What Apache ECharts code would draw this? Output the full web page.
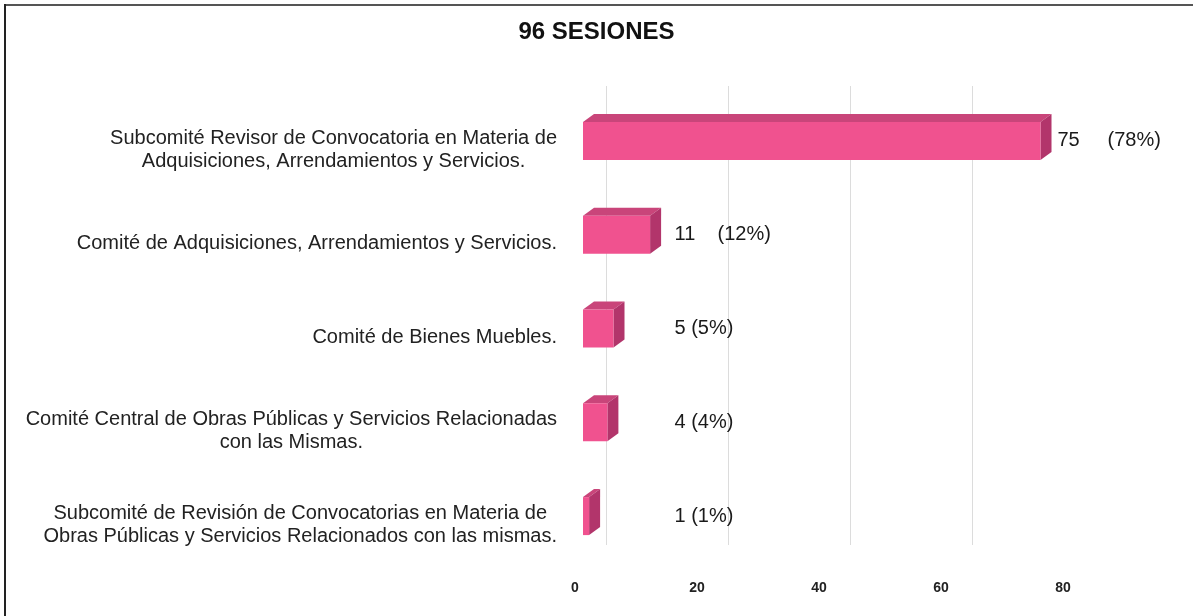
<!DOCTYPE html>
<html>
<head>
<meta charset="utf-8">
<script src="https://cdn.jsdelivr.net/npm/echarts@6/dist/echarts.min.js"></script>
<style>
body { margin: 0; background: #fff; }
#chart { width: 1193px; height: 616px; }
</style>
</head>
<body>
<div id="chart"></div>
<script>
// categories, top to bottom
const categories = [
  'Subcomité Revisor de Convocatoria en Materia de\nAdquisiciones, Arrendamientos y Servicios.',
  'Comité de Adquisiciones, Arrendamientos y Servicios.',
  'Comité de Bienes Muebles.',
  'Comité Central de Obras Públicas y Servicios Relacionadas\ncon las Mismas.',
  'Subcomité de Revisión de Convocatorias en Materia de\nObras Públicas y Servicios Relacionados con las mismas.'
]
const sesiones = [75, 11, 5, 4, 1]
const valueLabels = ['75     (78%)', '11    (12%)', '5 (5%)', '4 (4%)', '1 (1%)']
const xTicks = [0, 20, 40, 60, 80]

const font = "'Liberation Sans', Arial, sans-serif"
const chart = echarts.init(document.getElementById('chart'))

function renderBar(params, api) {
  const idx = api.value(1)
  const val = api.value(0)
  const p0 = api.coord([0, idx])
  const p1 = api.coord([val, idx])
  const h = 38, dx = 11, dy = 8
  const x0 = p0[0], x1 = p1[0]
  const yt = p0[1] - h / 2, yb = p0[1] + h / 2
  const labelX = Math.max(x1 + dx + 6, api.coord([15, idx])[0])
  return {
    type: 'group',
    children: [
      {
        type: 'polygon',
        shape: { points: [[x0, yt], [x0 + dx, yt - dy], [x1 + dx, yt - dy], [x1, yt]] },
        style: { fill: '#c9457a' }
      },
      {
        type: 'polygon',
        shape: { points: [[x1, yt], [x1 + dx, yt - dy], [x1 + dx, yb - dy], [x1, yb]] },
        style: { fill: '#b2356b' }
      },
      {
        type: 'rect',
        shape: { x: x0, y: yt, width: x1 - x0, height: h },
        style: { fill: '#f0528f' }
      },
      {
        type: 'text',
        style: {
          text: valueLabels[params.dataIndex],
          x: labelX,
          y: p0[1],
          verticalAlign: 'middle',
          fill: '#1a1a1a',
          font: '20px ' + font
        }
      }
    ]
  }
}

chart.setOption({
  animation: false,
  title: {
    text: '96 SESIONES',
    left: 'center',
    top: 20,
    padding: 0,
    textStyle: { fontSize: 24, fontWeight: 'bold', color: '#111', fontFamily: font }
  },
  grid: [
    { left: 583, width: 488, top: 94, height: 469 },
    { left: 606, width: 488, top: 86, height: 459 }
  ],
  xAxis: [
    {
      type: 'value', gridIndex: 0, min: xTicks[0], max: xTicks[xTicks.length - 1], interval: 20,
      axisLine: { show: false }, axisTick: { show: false }, splitLine: { show: false },
      axisLabel: {
        margin: 18, padding: [0, 16, 0, 0],
        fontSize: 14, fontWeight: 'bold', color: '#222', fontFamily: font
      }
    },
    {
      type: 'value', gridIndex: 1, min: xTicks[0], max: xTicks[xTicks.length - 1], interval: 20,
      axisLine: { show: false }, axisTick: { show: false }, axisLabel: { show: false },
      splitLine: { show: true, showMaxLine: false, lineStyle: { color: '#dcdcdc', width: 1 } }
    }
  ],
  yAxis: [
    {
      type: 'category', gridIndex: 0, data: categories, inverse: true,
      axisLine: { show: false }, axisTick: { show: false },
      axisLabel: {
        margin: 26, padding: [18, 0, 0, 0],
        formatter: v => v.split('\n').map(l => '{c|' + l + '}').join('\n'),
        rich: {
          c: { align: 'center', fontSize: 20, lineHeight: 23, color: '#222', fontFamily: font }
        }
      }
    },
    {
      type: 'category', gridIndex: 1, data: categories, inverse: true, show: false
    }
  ],
  series: [
    {
      type: 'custom',
      xAxisIndex: 0,
      yAxisIndex: 0,
      renderItem: renderBar,
      encode: { x: 0, y: 1 },
      data: sesiones.map((v, i) => [v, i])
    }
  ],
  graphic: [
    { type: 'line', shape: { x1: 5, y1: 5, x2: 1193, y2: 5 }, style: { stroke: '#555', lineWidth: 2 } },
    { type: 'line', shape: { x1: 5, y1: 4, x2: 5, y2: 616 }, style: { stroke: '#222', lineWidth: 2 } }
  ]
})
</script>
</body>
</html>
